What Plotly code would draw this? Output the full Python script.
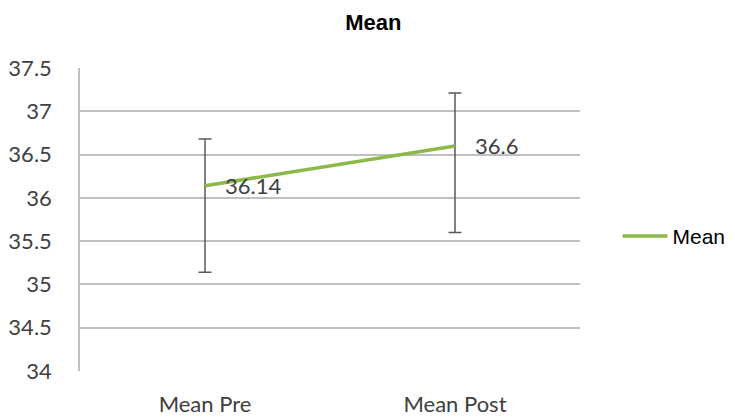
import plotly.graph_objects as go

categories = ["Mean Pre", "Mean Post"]
means = [36.14, 36.6]
err_plus = [0.54, 0.61]
err_minus = [1.0, 1.0]
value_labels = ["36.14", "36.6"]
y_ticks = [34, 34.5, 35, 35.5, 36, 36.5, 37, 37.5]
y_ticktext = ["34", "34.5", "35", "35.5", "36", "36.5", "37", "37.5"]

fig = go.Figure()
fig.add_trace(go.Scatter(
    x=categories, y=means, mode="lines", name="Mean",
    line=dict(color="#8DB84A", width=3.5),
    error_y=dict(type="data", symmetric=False, array=err_plus, arrayminus=err_minus,
                 color="#595959", thickness=1.5, width=6.5),
))

for c, v, t in zip(categories, means, value_labels):
    fig.add_annotation(x=c, y=v, text=t, showarrow=False, xanchor="left",
                       yanchor="middle", xshift=18,
                       font=dict(family="Lato", size=22, color="#404040"))

fig.update_layout(
    width=735, height=419,
    margin=dict(l=72, r=163, t=60, b=56),
    paper_bgcolor="white", plot_bgcolor="white",
    title=dict(text="<b>Mean</b>", x=0.497, xanchor="center", y=0.967, yanchor="middle",
               font=dict(family="Liberation Sans", size=22, color="black")),
    showlegend=True,
    legend=dict(x=1.075, xanchor="left", y=0.444, yanchor="middle",
                itemwidth=45,
                font=dict(family="Liberation Sans", size=21, color="black"),
                bgcolor="rgba(0,0,0,0)"),
    xaxis=dict(type="category", range=[-0.5, 1.5], showgrid=False, zeroline=False,
               showline=False, ticks="", ticklabelstandoff=18, automargin=False,
               tickfont=dict(family="Lato", size=22, color="#404040")),
    yaxis=dict(range=[34, 37.5], tickvals=y_ticks, ticktext=y_ticktext,
               showgrid=True, gridcolor="#BFBFBF", gridwidth=1.5, zeroline=False,
               showline=True, linecolor="#BFBFBF", linewidth=1.5,
               ticks="", ticklabelstandoff=22, automargin=False,
               tickfont=dict(family="Lato", size=22, color="#404040")),
)

fig.write_html("out.html")
